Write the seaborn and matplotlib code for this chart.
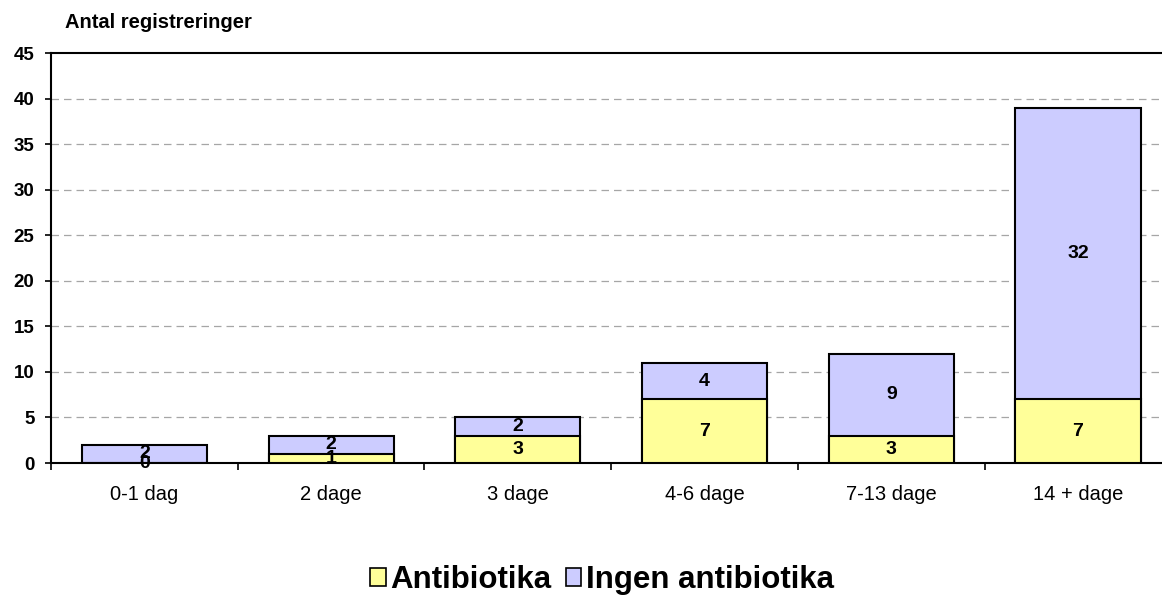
import matplotlib
matplotlib.use("Agg")
import matplotlib.pyplot as plt
from matplotlib.patches import Patch
from matplotlib.ticker import FixedLocator
import seaborn as sns
import pandas as pd

categories = ["0-1 dag", "2 dage", "3 dage", "4-6 dage", "7-13 dage", "14 + dage"]
antibiotika = [0, 1, 3, 7, 3, 7]
ingen_antibiotika = [2, 2, 2, 4, 9, 32]
y_ticks = [0, 5, 10, 15, 20, 25, 30, 35, 40, 45]

yellow = "#FFFF99"
lavender = "#CCCCFF"

sns.set_theme(style="white")
plt.rcParams["font.family"] = ["Liberation Sans", "DejaVu Sans"]
plt.rcParams["text.color"] = "black"
plt.rcParams["xtick.color"] = "black"
plt.rcParams["ytick.color"] = "black"
plt.rcParams["axes.labelcolor"] = "black"

totals = [a + b for a, b in zip(antibiotika, ingen_antibiotika)]
df = pd.DataFrame({"kategori": categories, "antibiotika": antibiotika,
                   "ingen": ingen_antibiotika, "total": totals})

fig = plt.figure(figsize=(11.62, 5.96), dpi=100)
ax = fig.add_axes([51 / 1162, 1 - 463 / 596, 1 - 51 / 1162, 410 / 596])

# stacked bars: full height in lavender, antibiotika part overlaid in yellow
sns.barplot(data=df, x="kategori", y="total", color=lavender, saturation=1,
            width=0.67, edgecolor="black", linewidth=1.5, ax=ax, zorder=3)
sns.barplot(data=df, x="kategori", y="antibiotika", color=yellow, saturation=1,
            width=0.67, edgecolor="black", linewidth=1.5, ax=ax, zorder=4)

# segment labels
for i, (a, b) in enumerate(zip(antibiotika, ingen_antibiotika)):
    ax.text(i, a / 2, str(a), ha="center", va="center", fontsize=14,
            fontweight="bold", color="black", zorder=6)
    ax.text(i, a + b / 2, str(b), ha="center", va="center", fontsize=14,
            fontweight="bold", color="black", zorder=6)

ax.set_ylim(0, 45)
ax.set_xlim(-0.5, 5.45)
ax.set_yticks(y_ticks)
ax.set_yticklabels([str(t) for t in y_ticks], fontsize=13.5, fontweight="bold")
ax.set_xticks(range(len(categories)))
ax.set_xticklabels(categories, fontsize=14.5)
ax.xaxis.set_minor_locator(FixedLocator([i + 0.5 for i in range(-1, 6)]))
ax.tick_params(axis="x", which="major", length=0, pad=16)
ax.tick_params(axis="x", which="minor", length=5, width=1.2, color="black",
               direction="out", bottom=True)
ax.tick_params(axis="y", length=4.3, width=1.2, color="black", direction="out",
               left=True, pad=7.5)
ax.set_xlabel("")
ax.set_ylabel("")

for t in y_ticks[1:-1]:
    ax.axhline(t, color="#A6A6A6", linewidth=0.9, linestyle=(0, (6, 4)), zorder=1)

for side in ["left", "bottom", "top"]:
    ax.spines[side].set_visible(True)
    ax.spines[side].set_color("black")
    ax.spines[side].set_linewidth(1.5)
ax.spines["right"].set_visible(False)

fig.text(65 / 1162, 1 - 23 / 596, "Antal registreringer", fontsize=14.5,
         fontweight="bold", ha="left", va="center")

handles = [Patch(facecolor=yellow, edgecolor="black", linewidth=1.2),
           Patch(facecolor=lavender, edgecolor="black", linewidth=1.2)]
fig.legend(handles, ["Antibiotika", "Ingen antibiotika"], loc="center",
           bbox_to_anchor=(0.518, 1 - 580 / 596), ncol=2, frameon=False,
           prop={"size": 22.5, "weight": "bold"}, handlelength=0.5,
           handleheight=0.5, handletextpad=0.15, columnspacing=0.45,
           borderpad=0, borderaxespad=0)

fig.savefig("out.png", dpi=100, facecolor="white")
